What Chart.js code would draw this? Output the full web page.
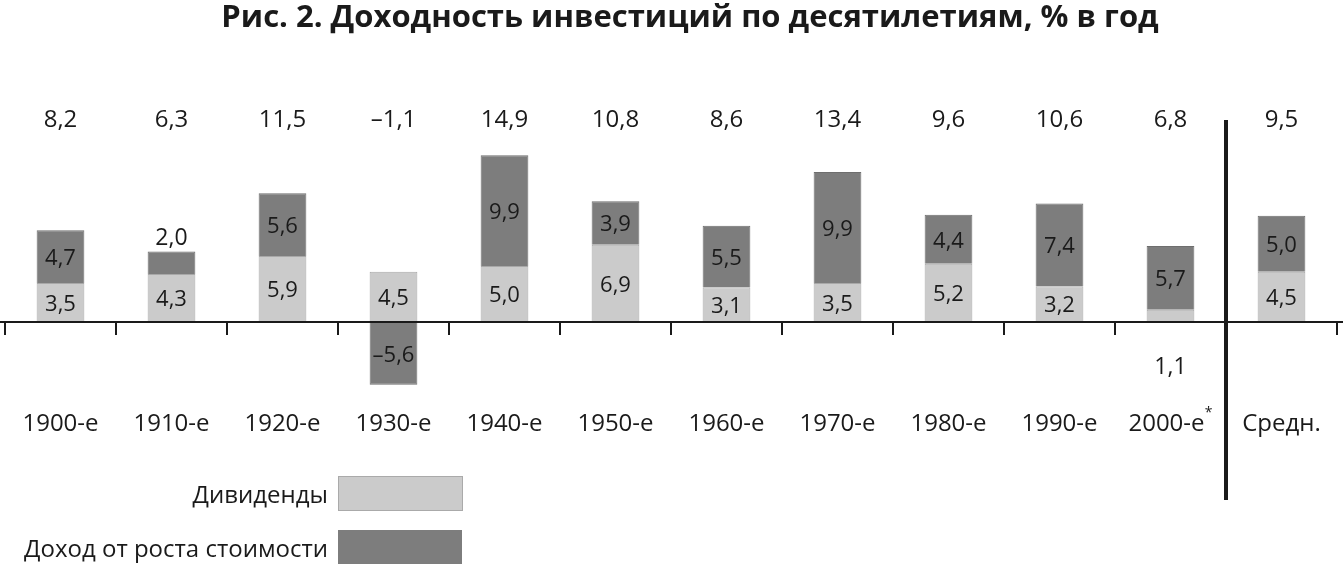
<!DOCTYPE html>
<html lang="ru">
<head>
    <meta charset="UTF-8">
    <title>Доходность инвестиций по десятилетиям</title>
    <script src="https://cdn.jsdelivr.net/npm/chart.js"></script>
    <style>
        * { margin: 0; padding: 0; box-sizing: border-box; }
        body { background: #fff; width: 1343px; height: 567px; overflow: hidden; }
        .wrap { position: relative; width: 1343px; height: 567px; }
    </style>
</head>
<body>
    <div class="wrap"><canvas id="chart"></canvas></div>
    <script>
        const decades = ['1900-е', '1910-е', '1920-е', '1930-е', '1940-е', '1950-е', '1960-е', '1970-е', '1980-е', '1990-е', '2000-е', 'Средн.'];
        const dividends = [3.5, 4.3, 5.9, 4.5, 5.0, 6.9, 3.1, 3.5, 5.2, 3.2, 1.1, 4.5];
        const growth = [4.7, 2.0, 5.6, -5.6, 9.9, 3.9, 5.5, 9.9, 4.4, 7.4, 5.7, 5.0];
        const totals = [8.2, 6.3, 11.5, -1.1, 14.9, 10.8, 8.6, 13.4, 9.6, 10.6, 6.8, 9.5];

        const FONT = '"Open Sans", "Noto Sans", sans-serif';
        const fmt = v => (v < 0 ? '\u2013' : '') + Math.abs(v).toFixed(1).replace('.', ',');

        const overlay = {
            id: 'overlay',
            afterDatasetsDraw(chart) {
                const ctx = chart.ctx;
                const x = chart.scales.x, y = chart.scales.y;
                const zero = y.getPixelForValue(0);
                ctx.save();
                ctx.fillStyle = '#1a1a1a';
                ctx.strokeStyle = '#1a1a1a';

                // title
                ctx.font = 'bold 31px ' + FONT;
                ctx.textAlign = 'center';
                ctx.textBaseline = 'middle';
                ctx.fillText('Рис. 2. Доходность инвестиций по десятилетиям, % в год', 690, 18);

                // axis
                ctx.lineWidth = 2;
                ctx.beginPath();
                ctx.moveTo(0, zero); ctx.lineTo(1343, zero);
                const step = x.getPixelForValue(1) - x.getPixelForValue(0);
                for (let i = 0; i <= decades.length; i++) {
                    const px = x.getPixelForValue(0) - step / 2 + i * step;
                    ctx.moveTo(px, zero); ctx.lineTo(px, zero + 13);
                }
                ctx.stroke();

                // separator
                ctx.lineWidth = 4;
                ctx.beginPath();
                const sep = x.getPixelForValue(10) + step / 2;
                ctx.moveTo(sep, 120); ctx.lineTo(sep, 500);
                ctx.stroke();

                decades.forEach((d, i) => {
                    const cx = x.getPixelForValue(i);
                    // totals
                    ctx.font = '500 24px ' + FONT;
                    ctx.fillText(fmt(totals[i]), cx, 120);
                    // category
                    if (i === 10) {
                        ctx.fillText(d, cx - 4, 424);
                        const w = ctx.measureText(d).width;
                        ctx.font = '14px ' + FONT;
                        ctx.fillText('*', cx - 4 + w / 2 + 4, 413);
                    } else {
                        ctx.fillText(d, cx, 424);
                    }
                    ctx.font = '22px ' + FONT;
                    // dividend label
                    const dv = dividends[i];
                    if (i === 10) {
                        ctx.font = '500 23px ' + FONT;
                        ctx.fillText(fmt(dv), cx, zero + 45);
                        ctx.font = '22px ' + FONT;
                    } else {
                        ctx.fillText(fmt(dv), cx, y.getPixelForValue(dv / 2) + 2);
                    }
                    // growth label
                    const g = growth[i];
                    let gy;
                    if (g < 0) gy = y.getPixelForValue(g / 2);
                    else if (i === 1) { gy = y.getPixelForValue(dv + g) - 15; ctx.font = '500 23px ' + FONT; }
                    else gy = y.getPixelForValue(dv + g / 2);
                    ctx.fillText(fmt(g), cx, gy + 2);
                });

                // legend
                ctx.font = '500 24px ' + FONT;
                ctx.textAlign = 'right';
                ctx.fillText('Дивиденды', 328, 496);
                ctx.fillText('Доход от роста стоимости', 328, 550);
                ctx.fillStyle = '#cbcbcb';
                ctx.fillRect(338, 476, 124, 34);
                ctx.strokeStyle = '#aaa';
                ctx.lineWidth = 1;
                ctx.strokeRect(338.5, 476.5, 124, 34);
                ctx.fillStyle = '#7d7d7d';
                ctx.fillRect(338, 530, 124, 34);
                ctx.restore();
            }
        };

        new Chart(document.getElementById('chart'), {
            type: 'bar',
            data: {
                labels: decades,
                datasets: [
                    { label: 'Дивиденды', data: dividends, backgroundColor: '#cbcbcb', borderColor: '#a8a8a8', borderWidth: 1 },
                    { label: 'Доход от роста стоимости', data: growth, backgroundColor: '#7d7d7d', borderColor: '#6e6e6e', borderWidth: 1 }
                ]
            },
            options: {
                responsive: true,
                maintainAspectRatio: false,
                animation: false,
                layout: { padding: { top: 143, bottom: 155.4, left: 5, right: 6 } },
                datasets: { bar: { barPercentage: 0.43, categoryPercentage: 1 } },
                scales: {
                    x: { stacked: true, display: false },
                    y: { stacked: true, display: false, min: -8, max: 16 }
                },
                plugins: { legend: { display: false }, tooltip: { enabled: false } }
            },
            plugins: [overlay]
        });
    </script>
</body>
</html>
